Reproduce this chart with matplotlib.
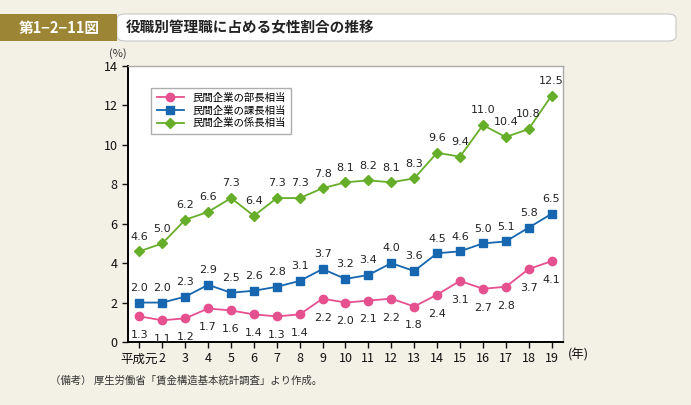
import matplotlib.pyplot as plt
from matplotlib.patches import FancyBboxPatch, Rectangle

plt.rcParams['font.family'] = ['Noto Sans CJK JP', 'DejaVu Sans']

years = list(range(1, 20))
year_labels = ['平成元', '2', '3', '4', '5', '6', '7', '8', '9', '10',
               '11', '12', '13', '14', '15', '16', '17', '18', '19']
bucho = [1.3, 1.1, 1.2, 1.7, 1.6, 1.4, 1.3, 1.4, 2.2, 2.0,
         2.1, 2.2, 1.8, 2.4, 3.1, 2.7, 2.8, 3.7, 4.1]
kacho = [2.0, 2.0, 2.3, 2.9, 2.5, 2.6, 2.8, 3.1, 3.7, 3.2,
         3.4, 4.0, 3.6, 4.5, 4.6, 5.0, 5.1, 5.8, 6.5]
kakaricho = [4.6, 5.0, 6.2, 6.6, 7.3, 6.4, 7.3, 7.3, 7.8, 8.1,
             8.2, 8.1, 8.3, 9.6, 9.4, 11.0, 10.4, 10.8, 12.5]
series_names = ['民間企業の部長相当', '民間企業の課長相当', '民間企業の係長相当']

bg = '#f3f0e5'
fig = plt.figure(figsize=(6.91, 4.05), dpi=100, facecolor=bg)

# header bar
fig.patches.append(FancyBboxPatch((117 / 691, 1 - 41 / 405), 559 / 691, 27 / 405,
                                  boxstyle='round,pad=0,rounding_size=0.012',
                                  transform=fig.transFigure, facecolor='white',
                                  edgecolor='#c8c8c8', linewidth=0.8))
fig.patches.append(Rectangle((0, 1 - 41 / 405), 117 / 691, 27 / 405,
                             transform=fig.transFigure, facecolor='#9c8534',
                             edgecolor='none'))
fig.text(59 / 691, 1 - 27.5 / 405, '第1−2−11図', color='white', fontsize=10.5,
         fontweight='bold', ha='center', va='center')
fig.text(126 / 691, 1 - 27.5 / 405, '役職別管理職に占める女性割合の推移', color='#222222',
         fontsize=10.5, fontweight='bold', ha='left', va='center')

ax = fig.add_axes([128 / 691, 63 / 405, 435 / 691, 276 / 405])
ax.set_facecolor('white')

ax.plot(years, bucho, color='#e5508f', marker='o', markersize=6, linewidth=1.3,
        label=series_names[0])
ax.plot(years, kacho, color='#1666b0', marker='s', markersize=6, linewidth=1.3,
        label=series_names[1])
ax.plot(years, kakaricho, color='#66ae2a', marker='D', markersize=5.5, linewidth=1.3,
        label=series_names[2])

for x, y in zip(years, bucho):
    ax.annotate(f'{y:.1f}', (x, y), xytext=(0, -10), textcoords='offset points',
                ha='center', va='top', fontsize=8, color='#222222', family='DejaVu Sans')
for x, y in zip(years, kacho):
    ax.annotate(f'{y:.1f}', (x, y), xytext=(0, 7), textcoords='offset points',
                ha='center', va='bottom', fontsize=8, color='#222222', family='DejaVu Sans')
for x, y in zip(years, kakaricho):
    ax.annotate(f'{y:.1f}', (x, y), xytext=(0, 7), textcoords='offset points',
                ha='center', va='bottom', fontsize=8, color='#222222', family='DejaVu Sans')

ax.set_xlim(0.5, 19.5)
ax.set_ylim(0, 14)
ax.set_yticks(range(0, 15, 2))
ax.set_xticks(years)
ax.set_xticklabels(year_labels)
ax.tick_params(axis='both', direction='out', length=4, width=1, labelsize=9,
               colors='#111111')
for side in ['top', 'right']:
    ax.spines[side].set_color('#aaaaaa')
    ax.spines[side].set_linewidth(1)
for side in ['left', 'bottom']:
    ax.spines[side].set_linewidth(1.4)

leg = ax.legend(loc='upper left', bbox_to_anchor=(0.042, 0.94), fontsize=7.5,
                frameon=True, fancybox=False, edgecolor='#999999',
                handlelength=2.6, borderpad=0.5, labelspacing=0.25)
leg.get_frame().set_linewidth(1)

fig.text(118 / 691, 1 - 54 / 405, '(%)', fontsize=8, ha='center', va='center',
         color='#333333')
fig.text(578 / 691, 1 - 355 / 405, '(年)', fontsize=9, ha='center', va='center',
         color='#111111')
fig.text(50 / 691, 1 - 380 / 405, '（備考） 厚生労働省「賃金構造基本統計調査」より作成。',
         fontsize=7.5, ha='left', va='center', color='#333333')

fig.savefig('out.png', dpi=100, facecolor=bg)
